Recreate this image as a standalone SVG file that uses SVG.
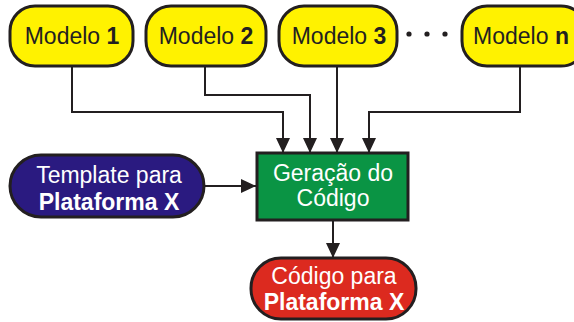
<svg xmlns="http://www.w3.org/2000/svg" width="574" height="322" viewBox="0 0 574 322">
<defs>
<marker id="arr" markerUnits="userSpaceOnUse" markerWidth="15" markerHeight="14" refX="15" refY="7" orient="auto">
<path d="M0,0 L15,7 L0,14 Z" fill="#231F20"/>
</marker>
<style>
.box{stroke:#231F20;stroke-width:3}
.yel{fill:#FFF200}
.blu{fill:#2A1A80}
.grn{fill:#0A9444}
.red{fill:#DC2A1F}
.t{font-family:"Liberation Sans",Arial,sans-serif;font-size:23px;text-anchor:middle}
.b{font-weight:bold}
.dk{fill:#231F20}
.wh{fill:#FFFFFF}
.c{fill:none;stroke:#231F20;stroke-width:2;marker-end:url(#arr)}
</style>
</defs>
<rect width="574" height="322" fill="#FFFFFF"/>
<g id="connectors">
<polyline class="c" points="72,66 72,112 283,112 283,153"/>
<polyline class="c" points="205,66 205,95 310,95 310,153"/>
<polyline class="c" points="337,66 337,153"/>
<polyline class="c" points="520,66 520,112 369,112 369,153"/>
<polyline class="c" points="204,186 256,186"/>
<polyline class="c" points="333,220 333,258"/>
</g>
<g id="modelo1">
<rect class="box yel" x="10" y="6" width="123" height="60" rx="25" ry="25"/>
<text class="t dk" x="72" y="44">Modelo <tspan class="b">1</tspan></text>
</g>
<g id="modelo2">
<rect class="box yel" x="146" y="6" width="120" height="60" rx="25" ry="25"/>
<text class="t dk" x="206" y="44">Modelo <tspan class="b">2</tspan></text>
</g>
<g id="modelo3">
<rect class="box yel" x="279" y="6" width="118" height="60" rx="25" ry="25"/>
<text class="t dk" x="339" y="44">Modelo <tspan class="b">3</tspan></text>
</g>
<g id="dots">
<circle cx="409" cy="34" r="2.6" fill="#231F20"/>
<circle cx="427" cy="34" r="2.6" fill="#231F20"/>
<circle cx="445" cy="34" r="2.6" fill="#231F20"/>
</g>
<g id="modelon">
<rect class="box yel" x="462" y="6" width="124" height="60" rx="25" ry="25"/>
<text class="t dk" x="521" y="44">Modelo <tspan class="b">n</tspan></text>
</g>
<g id="template">
<rect class="box blu" x="10" y="155" width="194" height="62" rx="31" ry="31"/>
<text class="t wh" x="109" y="183">Template para</text>
<text class="t wh b" x="109" y="210">Plataforma X</text>
</g>
<g id="geracao">
<rect class="box grn" x="257" y="153" width="151" height="67"/>
<text class="t wh" x="333" y="181">Geração do</text>
<text class="t wh" x="333" y="206">Código</text>
</g>
<g id="codigo">
<rect class="box red" x="251" y="258" width="165" height="61" rx="30" ry="30"/>
<text class="t wh" x="334" y="284">Código para</text>
<text class="t wh b" x="334" y="310">Plataforma X</text>
</g>
</svg>
